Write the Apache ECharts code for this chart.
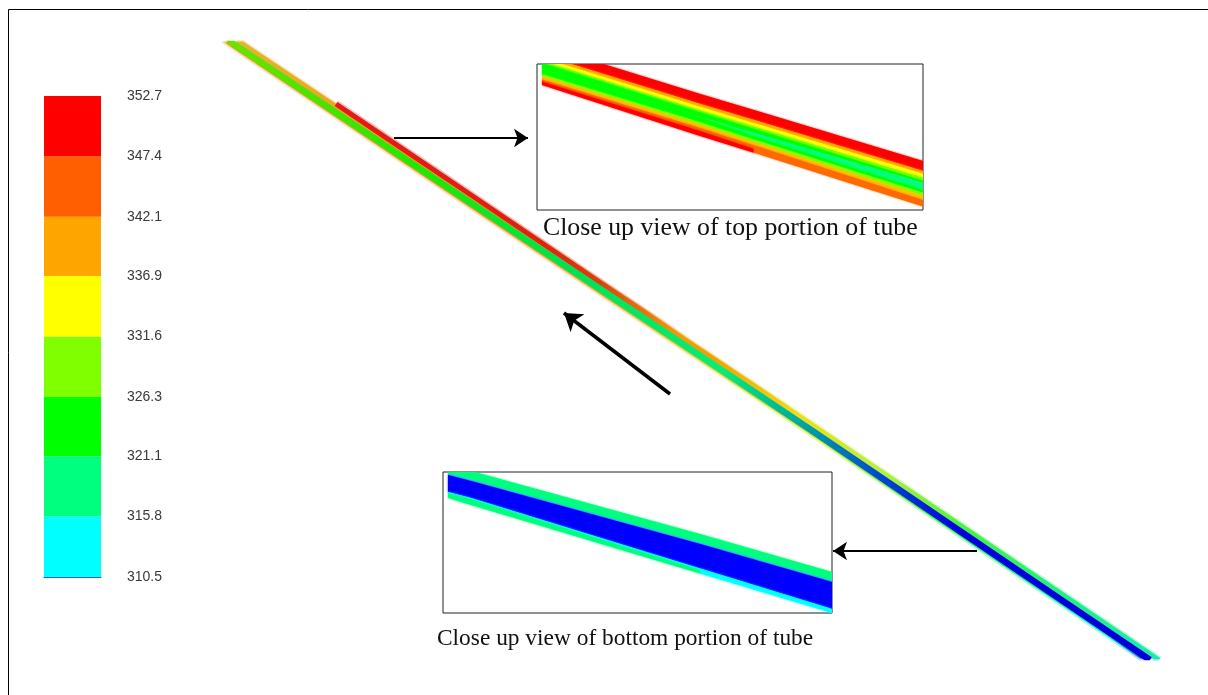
<!DOCTYPE html>
<html>
<head>
<meta charset="utf-8">
<style>
  html, body { margin: 0; padding: 0; background: #fff; }
  #main { width: 1208px; height: 695px; }
</style>
<script src="https://cdn.jsdelivr.net/npm/echarts@6/dist/echarts.min.js"></script>
</head>
<body>
<div id="main"></div>
<script>
// colour scale
var scaleTicks = [352.7, 347.4, 342.1, 336.9, 331.6, 326.3, 321.1, 315.8, 310.5];
var scaleColors = ["#ff0000", "#ff5f00", "#ffa500", "#ffff00", "#7fff00", "#00ff00", "#00ff7f", "#00ffff"];

// tube, whole length: [x, y]
var tubeLower = [[224, 40], [231, 45], [487, 217], [676, 343], [806, 430], [971, 542], [1145, 660]];
var tubeMiddle = [[228, 40], [235, 45], [492, 217], [681, 343], [811, 430], [976, 542], [1150, 660]];
var tubeUpper = [[237, 40], [244, 45], [501, 217], [690, 343], [820, 430], [985, 542], [1159, 660]];
var tubeRed = [[336, 104], [471, 195], [601, 283], [694, 345]];
var tubeLowerStops = [[225, "#eca52e"], [480, "#ee9a28"], [620, "#eeb030"], [720, "#e8d030"], [820, "#c8ee30"], [920, "#50f040"], [1020, "#10f080"], [1110, "#10f0c0"], [1150, "#2060e0"]];
var tubeMiddleStops = [[225, "#70e000"], [420, "#20e800"], [560, "#00e050"], [720, "#08ec78"], [800, "#00a8a0"], [880, "#0048d0"], [960, "#0000e0"], [1156, "#0000d8"]];
var tubeUpperStops = [[225, "#e0b830"], [339, "#e8a820"], [640, "#e8a020"], [710, "#eea000"], [800, "#e8e020"], [880, "#b8f040"], [960, "#50f040"], [1060, "#20f080"], [1156, "#20e8b0"]];
var tubeRedStops = [[225, "#e81818"], [540, "#e02010"], [600, "#d84010"], [650, "rgba(230,110,10,0.8)"], [694, "rgba(238,160,0,0)"], [1156, "rgba(238,160,0,0)"]];

// top close up: x knots and band edges (px inside the box)
var topKnots = [5, 160, 216, 217, 386];
var topEdges = [
  [-19, 29, 45.8, 46.1, 97],
  [-9, 39, 55.8, 56.1, 107],
  [-6, 42, 59, 59.3, 110],
  [-3, 45.2, 62.2, 62.5, 113.7],
  [-1, 47.2, 64.5, 64.8, 116.7],
  [5, 52, 69, 69.3, 119],
  [5, 52, 72, 72.3, 126],
  [10.5, 57.6, 75.5, 75.8, 129],
  [12.5, 60, 78, 78.2, 132],
  [15.5, 63, 81, 81.2, 136],
  [17.5, 66, 84.5, 88.8, 142.5],
  [21, 71, 88.5, 88.8, 142.5]
];
var topColors = ["#ff0000", "#ffa500", "#ffff00", "#7fff00", "#00ff00", "#00ff7f", "#00ff00", "#7fff00", "#ffc000", "#ff6a00", "#ff0000"];

// bottom close up
var bottomKnots = [5, 28, 257, 258, 389];
var bottomEdges = [
  [-7.5, -1, 62, 62.3, 100],
  [1, -1, 62, 62.3, 100],
  [2, 8, 71, 71.3, 109],
  [3, 9, 72, 72.3, 110],
  [20, 26, 96.4, 96.7, 137],
  [21, 27, 98, 101.8, 141],
  [26, 33, 101.5, 101.8, 141]
];
var bottomColors = ["#00ff00", "#00ff7f", "#40c8ff", "#0000ff", "#00ffff", "#00ff7f"];

// arrows, start and tip
var thinArrows = [[[394, 138], [528, 138]], [[977, 551], [833, 551]]];
var flowArrow = [[670, 394], [564, 313]];

var chart = echarts.init(document.getElementById("main"));

function hiddenAxis(gridIndex, min, max, inverse) {
  return { type: "value", gridIndex: gridIndex, min: min, max: max, inverse: !!inverse, show: false, splitLine: { show: false } };
}

function tubeGradient(stops) {
  var x0 = 225, x1 = 1156;
  return {
    type: "linear", x: x0, y: 0, x2: x1, y2: 0, global: true,
    colorStops: stops.map(function (s) { return { offset: (s[0] - x0) / (x1 - x0), color: s[1] }; })
  };
}

function tubeLine(points, stops, width, opacity) {
  return {
    type: "line", xAxisIndex: 1, yAxisIndex: 1, data: points, symbol: "none", silent: true, smooth: 0.3,
    lineStyle: { width: width, opacity: opacity, color: tubeGradient(stops), cap: "butt" }
  };
}

// one polygon per band between two neighbouring edges
function closeUp(gridIndex, knots, edges, colors) {
  return {
    type: "custom", xAxisIndex: gridIndex, yAxisIndex: gridIndex, clip: true, silent: true,
    data: colors.map(function (c, i) { return [knots[0], edges[i][0]]; }),
    renderItem: function (params, api) {
      var i = params.dataIndex, pts = [];
      knots.forEach(function (x, k) { pts.push(api.coord([x, edges[i][k]])); });
      for (var k = knots.length - 1; k >= 0; k--) pts.push(api.coord([knots[k], edges[i + 1][k]]));
      return { type: "polygon", shape: { points: pts }, style: { fill: colors[i], shadowBlur: 2, shadowColor: colors[i] } };
    }
  };
}

var series = [];

// soft edge first, then the lanes of the tube
series.push(tubeLine(tubeLower, tubeLowerStops, 7, 0.3));
series.push(tubeLine(tubeUpper, tubeUpperStops, 8, 0.3));
series.push(tubeLine(tubeRed, tubeRedStops, 8, 0.3));
series.push(tubeLine(tubeUpper, tubeUpperStops, 5, 1));
series.push(tubeLine(tubeLower, tubeLowerStops, 3.5, 1));
series.push(tubeLine(tubeRed, tubeRedStops, 5, 1));
series.push(tubeLine(tubeMiddle, tubeMiddleStops, 6.5, 1));

series.push(closeUp(2, topKnots, topEdges, topColors));
series.push(closeUp(3, bottomKnots, bottomEdges, bottomColors));

// colour scale: invisible base, then one bar per band
series.push({ type: "bar", xAxisIndex: 4, yAxisIndex: 4, stack: "scale", barWidth: "100%", silent: true, itemStyle: { color: "transparent" }, data: [scaleTicks[8]] });
for (var i = 7; i >= 0; i--) {
  series.push({
    type: "bar", xAxisIndex: 4, yAxisIndex: 4, stack: "scale", barWidth: "100%", silent: true,
    itemStyle: { color: scaleColors[i] },
    data: [+(scaleTicks[i] - scaleTicks[i + 1]).toFixed(1)]
  });
}

// arrows
series.push({
  type: "lines", coordinateSystem: "cartesian2d", xAxisIndex: 0, yAxisIndex: 0, polyline: false, silent: true,
  symbol: ["none", "arrow"], symbolSize: 14,
  lineStyle: { color: "#000", width: 2, opacity: 1 },
  data: thinArrows.map(function (a) { return { coords: a }; })
});
series.push({
  type: "lines", coordinateSystem: "cartesian2d", xAxisIndex: 0, yAxisIndex: 0, polyline: false, silent: true,
  symbol: ["none", "arrow"], symbolSize: 17,
  lineStyle: { color: "#000", width: 3.5, opacity: 1 },
  data: [{ coords: flowArrow }]
});

chart.setOption({
  animation: false,
  backgroundColor: "#fff",
  grid: [
    { left: 0, top: 0, width: 1208, height: 695 },
    { left: 0, top: 44, width: 1208, height: 613 },
    { left: 537, top: 64, width: 386, height: 146, show: true, borderColor: "#222", borderWidth: 1, backgroundColor: "#fff" },
    { left: 443, top: 472, width: 389, height: 141, show: true, borderColor: "#222", borderWidth: 1, backgroundColor: "#fff" },
    { left: 44, top: 96, width: 57, height: 481 }
  ],
  xAxis: [
    hiddenAxis(0, 0, 1208),
    hiddenAxis(1, 0, 1208),
    hiddenAxis(2, 0, 386),
    hiddenAxis(3, 0, 389),
    { type: "category", gridIndex: 4, data: ["T"], axisLabel: { show: false }, axisTick: { show: false }, axisLine: { show: true, lineStyle: { color: "#2a6ab0", width: 1 } } }
  ],
  yAxis: [
    hiddenAxis(0, 0, 695, true),
    hiddenAxis(1, 44, 657, true),
    hiddenAxis(2, 0, 146, true),
    hiddenAxis(3, 0, 141, true),
    {
      type: "value", gridIndex: 4, position: "right", min: scaleTicks[8], max: scaleTicks[0],
      splitLine: { show: false }, axisLine: { show: false }, axisTick: { show: false },
      axisLabel: {
        margin: 26, color: "#3a3a3a", fontFamily: "Liberation Sans", fontSize: 14,
        customValues: scaleTicks,
        formatter: function (v) { return v.toFixed(1); }
      }
    }
  ],
  series: series,
  graphic: [
    { type: "rect", silent: true, shape: { x: 8.5, y: 9.5, width: 1300, height: 800 }, style: { fill: "none", stroke: "#000", lineWidth: 1 }, z: 100 },
    { type: "text", left: 543, top: 215, silent: true, style: { text: "Close up view of top portion of tube", font: "25.8px 'Liberation Serif'", fill: "#111" } },
    { type: "text", left: 437, top: 627, silent: true, style: { text: "Close up view of bottom portion of tube", font: "23.4px 'Liberation Serif'", fill: "#111" } }
  ]
});
</script>
</body>
</html>
